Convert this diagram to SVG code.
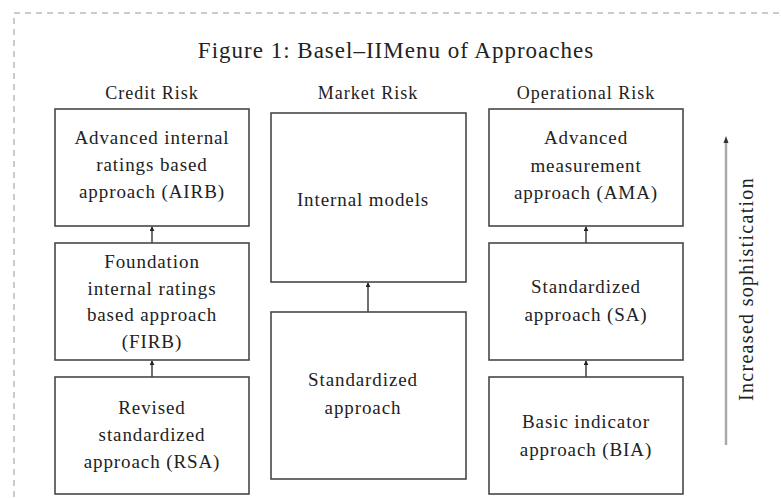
<svg xmlns="http://www.w3.org/2000/svg" width="781" height="498" viewBox="0 0 781 498">
<style>
text{font-family:"Liberation Serif","Times New Roman",serif;fill:#222;text-anchor:middle}
.title{font-size:23px;letter-spacing:1px}
.hdr{font-size:18px;letter-spacing:1px}
.lbl{font-size:19px;letter-spacing:0.9px}
.box{fill:#fff;stroke:#484848;stroke-width:1.6}
.conn{stroke:#333;stroke-width:1.4;fill:none}
</style>
<defs>
<marker id="ah" viewBox="0 0 6 6" refX="5" refY="3" markerWidth="5" markerHeight="5" orient="auto" markerUnits="userSpaceOnUse">
<path d="M0,0 L6,3 L0,6 z" fill="#222"/>
</marker>
</defs>
<rect x="14" y="13" width="800" height="520" fill="none" stroke="#bbb" stroke-width="1.5" stroke-dasharray="6 5"/>
<text class="title" x="396" y="58">Figure 1: Basel–IIMenu of Approaches</text>
<text class="hdr" x="152" y="99">Credit Risk</text>
<text class="hdr" x="368" y="99">Market Risk</text>
<text class="hdr" x="586" y="99">Operational Risk</text>

<g id="connectors">
<line class="conn" x1="152" y1="243" x2="152" y2="227" marker-end="url(#ah)"/>
<line class="conn" x1="152" y1="377" x2="152" y2="361" marker-end="url(#ah)"/>
<line class="conn" x1="368" y1="312" x2="368" y2="283" marker-end="url(#ah)"/>
<line class="conn" x1="586" y1="243" x2="586" y2="227" marker-end="url(#ah)"/>
<line class="conn" x1="586" y1="377" x2="586" y2="361" marker-end="url(#ah)"/>
<line x1="726" y1="445" x2="726" y2="142" stroke="#aaa" stroke-width="2.5"/>
<path d="M723.5,143 L726,136 L728.5,143 z" fill="#333"/>
</g>

<g id="airb"><rect class="box" x="55" y="109" width="194" height="117"/>
<text class="lbl" x="152" y="144">Advanced internal</text>
<text class="lbl" x="152" y="171">ratings based</text>
<text class="lbl" x="152" y="198">approach (AIRB)</text></g>

<g id="firb"><rect class="box" x="55" y="243" width="194" height="117"/>
<text class="lbl" x="152" y="268">Foundation</text>
<text class="lbl" x="152" y="295">internal ratings</text>
<text class="lbl" x="152" y="321">based approach</text>
<text class="lbl" x="152" y="348">(FIRB)</text></g>

<g id="rsa"><rect class="box" x="55" y="377" width="194" height="117"/>
<text class="lbl" x="152" y="414">Revised</text>
<text class="lbl" x="152" y="441">standardized</text>
<text class="lbl" x="152" y="468">approach (RSA)</text></g>

<g id="internal-models"><rect class="box" x="271" y="113" width="195" height="169"/>
<text class="lbl" x="363" y="206">Internal models</text></g>

<g id="standardized"><rect class="box" x="271" y="312" width="195" height="167"/>
<text class="lbl" x="363" y="386">Standardized</text>
<text class="lbl" x="363" y="414">approach</text></g>

<g id="ama"><rect class="box" x="489" y="109" width="194" height="117"/>
<text class="lbl" x="586" y="144">Advanced</text>
<text class="lbl" x="586" y="172">measurement</text>
<text class="lbl" x="586" y="199">approach (AMA)</text></g>

<g id="sa"><rect class="box" x="489" y="243" width="194" height="117"/>
<text class="lbl" x="586" y="293">Standardized</text>
<text class="lbl" x="586" y="321">approach (SA)</text></g>

<g id="bia"><rect class="box" x="489" y="377" width="194" height="117"/>
<text class="lbl" x="586" y="428">Basic indicator</text>
<text class="lbl" x="586" y="456">approach (BIA)</text></g>

<text class="lbl" transform="translate(753,289) rotate(-90)" style="font-size:20px;letter-spacing:1.3px">Increased sophistication</text>
</svg>
